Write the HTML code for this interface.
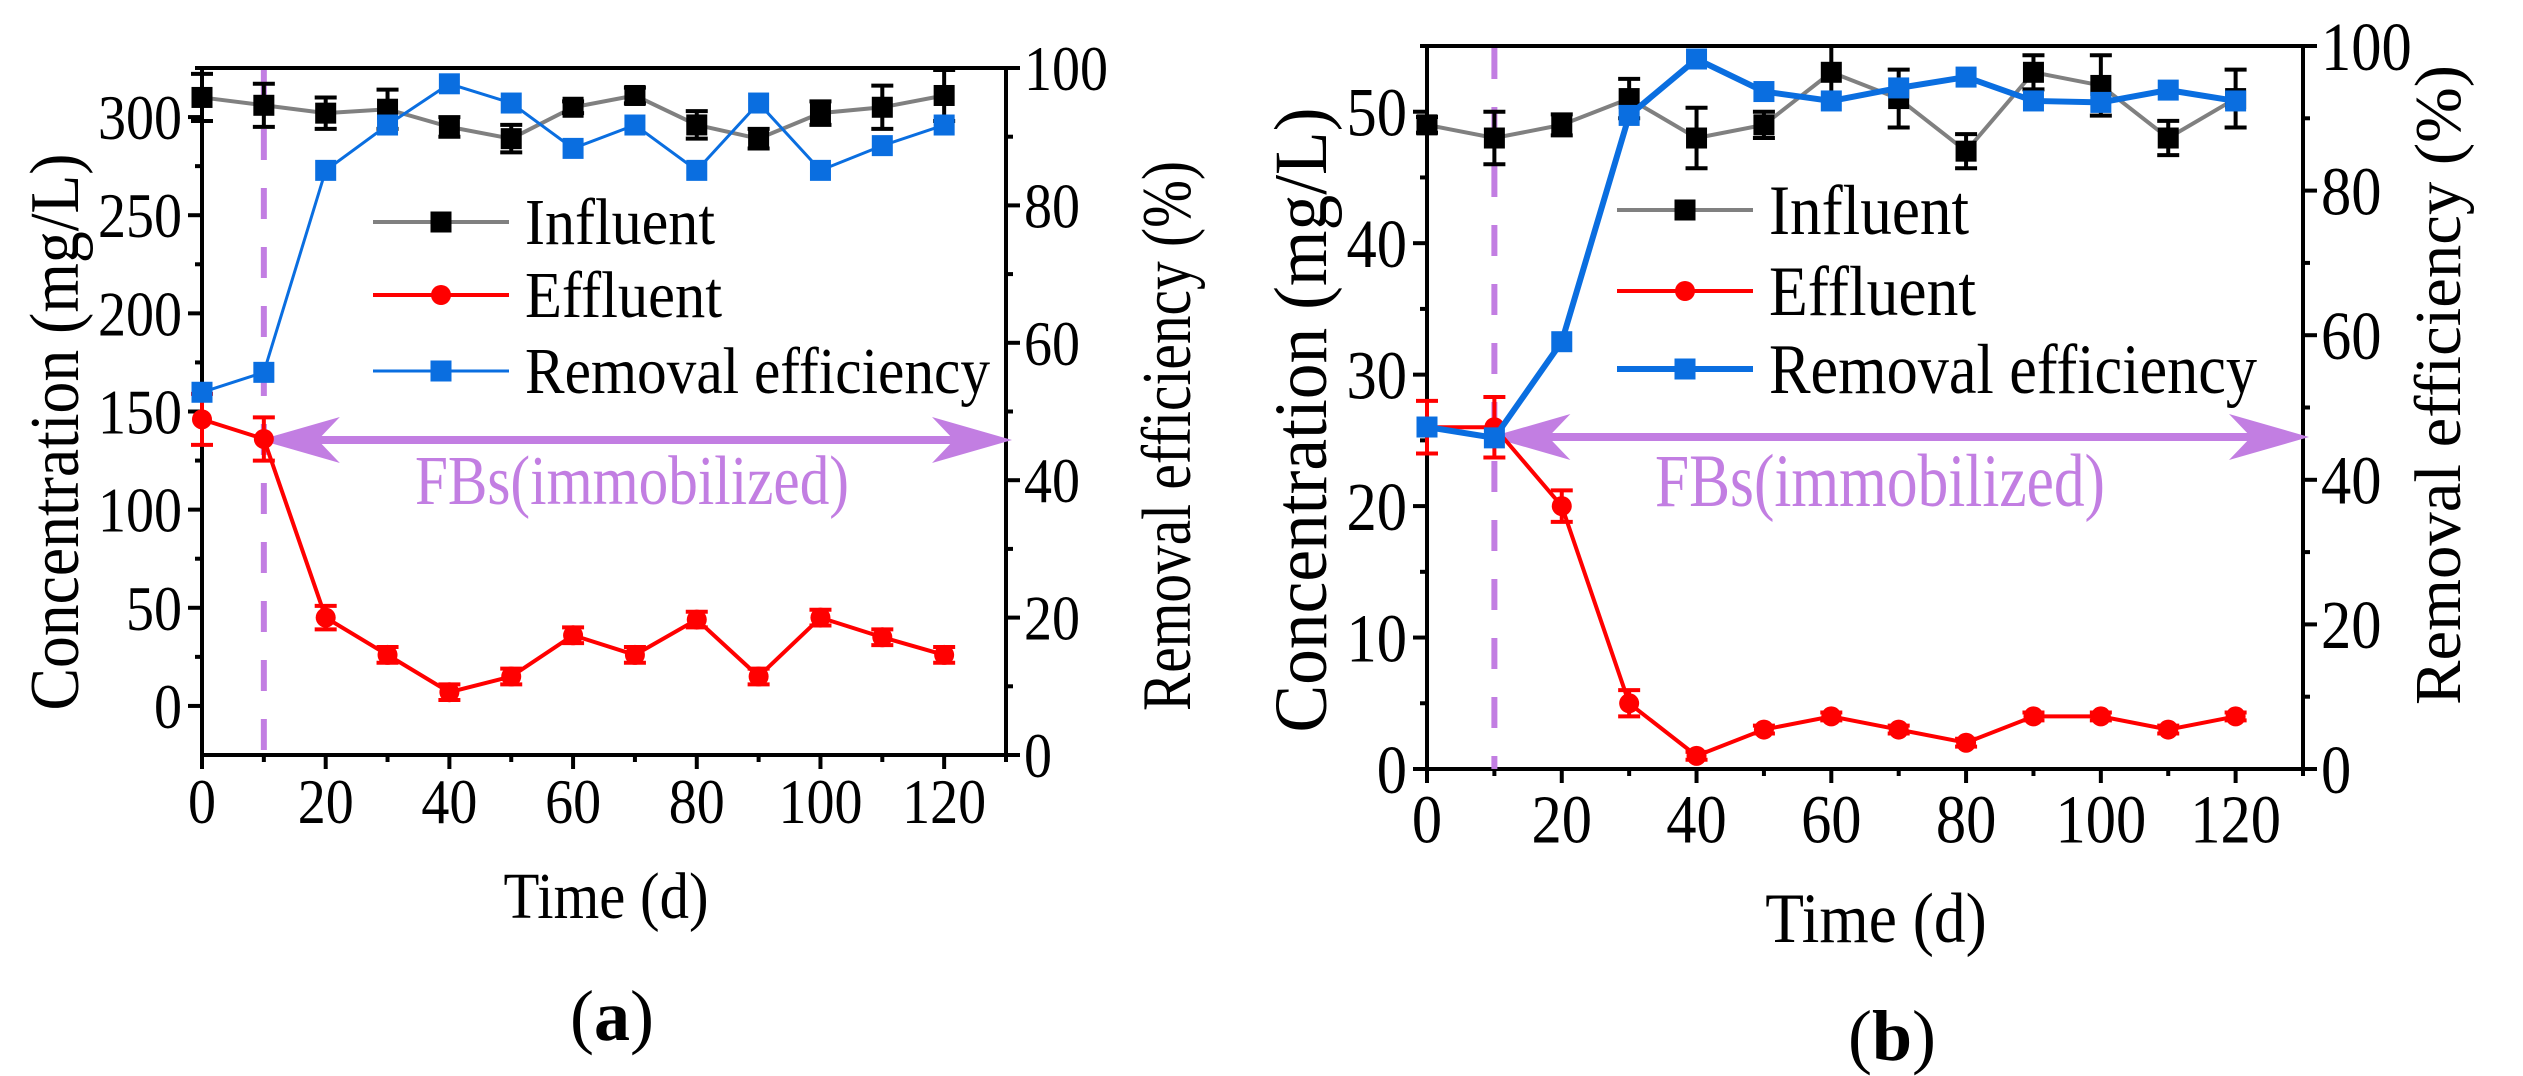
<!DOCTYPE html>
<html><head><meta charset="utf-8"><style>
html,body{margin:0;padding:0;background:#fff;}
svg{display:block;}
svg text{font-family:"Liberation Serif","DejaVu Serif","Times New Roman",serif;}
</style></head><body>
<svg id="c" width="2523" height="1076" viewBox="0 0 2523 1076" xmlns="http://www.w3.org/2000/svg"></svg>
<script>
const days = [0,10,20,30,40,50,60,70,80,90,100,110,120];
const aInfluent = [310,306,302,304,295,289,305,311,296,289,302,305,311];
const aInfluentErr = [12,11,8,10,5,7,3,4,7,5,6,11,13];
const aEffluent = [146,136,45,26,7,15,36,26,44,15,45,35,26];
const aEffluentErr = [13,11,6,4,4,4,4,4,4,4,4,4,4];
const aRemoval = [52.8,55.7,85.1,91.7,97.7,94.9,88.3,91.7,85.1,94.9,85.1,88.7,91.7];
const bInfluent = [49,48,49,51,48,49,53,51,47,53,52,48,51];
const bInfluentErr = [0.6,2,0.8,1.5,2.3,1,2,2.2,1.3,1.3,2.3,1.3,2.2];
const bEffluent = [26,26,20,5,1,3,4,3,2,4,4,3,4];
const bEffluentErr = [2,2.3,1.2,1,0.3,0.3,0.3,0.3,0.3,0.3,0.3,0.3,0.3];
const bRemoval = [47.3,45.8,59.1,90.4,98.2,93.7,92.4,94.2,95.7,92.4,92.2,93.9,92.4];
const xTicks = [0,20,40,60,80,100,120];
const aLeftTicks = [0,50,100,150,200,250,300];
const bLeftTicks = [0,10,20,30,40,50];
const rightTicks = [0,20,40,60,80,100];

const NS='http://www.w3.org/2000/svg';
const svg=document.getElementById('c');
function el(tag,attrs,parent,text){const e=document.createElementNS(NS,tag);for(const k in attrs)e.setAttribute(k,attrs[k]);if(tag==='text')e.style.fontFamily='"Liberation Serif","DejaVu Serif","Times New Roman",serif';if(text!==undefined)e.textContent=text;(parent||svg).appendChild(e);return e;}
function fit(t,w){t.setAttribute('textLength',w);t.setAttribute('lengthAdjust','spacingAndGlyphs');}

function panel(P){
  const g=el('g',{});
  
  
  const k=P.k;
  const X=v=>P.x0+v/130*(P.x1-P.x0);
  const YL=v=>P.yb-(v-P.lmin)/(P.lmax-P.lmin)*(P.yb-P.yt);
  const YR=v=>P.yb-v/100*(P.yb-P.yt);
  const fsT=64*k, dw=28*k;
  const ax=el('g',{},g);
  
  
  el('rect',{x:P.x0,y:P.yt,width:P.x1-P.x0,height:P.yb-P.yt,fill:'none',stroke:'#000','stroke-width':4},ax);
  for(let v=0;v<=130;v+=10){const maj=v%20===0;el('line',{x1:X(v),x2:X(v),y1:P.yb,y2:P.yb+(maj?14:7),stroke:'#000','stroke-width':4},ax);}
  xTicks.forEach(v=>{const s=String(v);const t=el('text',{x:X(v),y:P.yb+68*k,'font-size':fsT,'text-anchor':'middle'},g,s);fit(t,s.length*dw);
    });
  for(let v=P.lminTick;v<=P.lmax;v+=P.lminor){const maj=Math.abs(v%P.lmajor)<1e-6;el('line',{x1:P.x0,x2:P.x0-(maj?14:7),y1:YL(v),y2:YL(v),stroke:'#000','stroke-width':4},ax);}
  P.lticks.forEach(v=>{const s=String(v);const t=el('text',{x:P.x0-20,y:YL(v)+22*k,'font-size':fsT,'text-anchor':'end'},g,s);fit(t,s.length*dw);
    });
  for(let v=0;v<=100;v+=10){const maj=v%20===0;el('line',{x1:P.x1,x2:P.x1+(maj?14:7),y1:YR(v),y2:YR(v),stroke:'#000','stroke-width':4},ax);}
  rightTicks.forEach(v=>{const s=String(v);const t=el('text',{x:P.x1+18,y:YR(v)+22*k,'font-size':fsT},g,s);fit(t,s.length*dw);
    });
  let t=el('text',{x:P.tx,y:P.tyb,'font-size':66*k,'text-anchor':'middle'},g,'Time (d)');fit(t,205*k);
  
  t=el('text',{x:0,y:0,'font-size':70*k,'text-anchor':'middle',transform:`translate(${P.lx},${P.lcy}) rotate(-90)`},g,'Concentration (mg/L)');fit(t,P.lLen);
  
  t=el('text',{x:0,y:0,'font-size':P.rfs,'text-anchor':'middle',transform:`translate(${P.rx},${P.rcy}) rotate(-90)`},g,'Removal efficiency (%)');fit(t,P.rLen);
  
  t=el('text',{x:P.capx,y:P.capy,'font-size':72,'text-anchor':'middle'},g);
  el('tspan',{},t,'(');el('tspan',{'font-weight':'bold'},t,P.cap);el('tspan',{},t,')');
  
  const d=el('line',{x1:X(10),x2:X(10),y1:P.yt+2,y2:P.yb,stroke:'#c27ee2','stroke-width':6,'stroke-dasharray':'31 28'},g);
  
  const ay=P.arrowY, axl=X(10)-4, axr=P.x1+6;
  const ar=el('g',{},g);
  
  el('line',{x1:axl+30,x2:axr-30,y1:ay,y2:ay,stroke:'#c27ee2','stroke-width':8},ar);
  el('polygon',{points:`${axl},${ay} ${axl+80},${ay-23} ${axl+58},${ay} ${axl+80},${ay+23}`,fill:'#c27ee2'},ar);
  el('polygon',{points:`${axr},${ay} ${axr-80},${ay-23} ${axr-58},${ay} ${axr-80},${ay+23}`,fill:'#c27ee2'},ar);
  t=el('text',{x:P.fbx,y:ay+64*k,'font-size':70*k,fill:'#c27ee2','text-anchor':'middle'},g,'FBs(immobilized)');fit(t,P.fbLen);
  
  function series(vals,errs,yf,color,lw,marker,name){
    const s=el('g',{},g);
    
    el('polyline',{points:vals.map((v,i)=>X(days[i])+','+yf(v)).join(' '),fill:'none',stroke:color,'stroke-width':lw},s);
    vals.forEach((v,i)=>{
      const cx=X(days[i]),cy=yf(v);
      if(errs){const ec=color==='#ff0000'?'#ff0000':'#000';const e1=yf(v+errs[i]),e2=yf(v-errs[i]);
        el('line',{x1:cx,x2:cx,y1:e1,y2:e2,stroke:ec,'stroke-width':4},s);
        el('line',{x1:cx-11,x2:cx+11,y1:e1,y2:e1,stroke:ec,'stroke-width':4},s);
        el('line',{x1:cx-11,x2:cx+11,y1:e2,y2:e2,stroke:ec,'stroke-width':4},s);}
      let m;
      if(marker==='c')m=el('circle',{cx:cx,cy:cy,r:10,fill:color},s);
      else m=el('rect',{x:cx-10.5,y:cy-10.5,width:21,height:21,fill:color==='#808080'?'#000':color},s);
      
    });
  }
  series(P.inf,P.infErr,YL,'#808080',4,'s','influent-series');
  series(P.eff,P.effErr,YL,'#ff0000',4,'c','effluent-series');
  series(P.rem,null,YR,'#0a6ee0',P.remW,'s','removal-series');
  const lg=el('g',{},g);
  
  const items=[['Influent','#808080','s',4,P.legW[0]],['Effluent','#ff0000','c',4,P.legW[1]],['Removal efficiency','#0a6ee0','s',P.remW,P.legW[2]]];
  items.forEach((it,i)=>{
    const y=P.legY[i];const e=el('g',{},lg);
    
    el('line',{x1:P.legX,x2:P.legX+136,y1:y,y2:y,stroke:it[1],'stroke-width':it[3]},e);
    const mx=P.legX+68;
    if(it[2]==='c')el('circle',{cx:mx,cy:y,r:10,fill:it[1]},e);
    else el('rect',{x:mx-10.5,y:y-10.5,width:21,height:21,fill:it[1]==='#808080'?'#000':it[1]},e);
    const tt=el('text',{x:P.legX+152,y:y+22*k,'font-size':66*k},e,it[0]);fit(tt,it[4]);
  });
}

panel({name:'panel-a',k:1,x0:202,x1:1006,yt:68,yb:755,lmin:-25,lmax:325,lminTick:0,lminor:25,lmajor:50,lticks:aLeftTicks,
  inf:aInfluent,infErr:aInfluentErr,eff:aEffluent,effErr:aEffluentErr,rem:aRemoval,remW:3,
  tx:606,tyb:918,lx:78,lcy:432,lLen:557,rx:1190,rcy:436,rLen:550,rfs:70,cap:'a',capx:612,capy:1040,
  arrowY:440,fbx:632,fbLen:434,legX:373,legY:[222,295,371],legW:[190,197,465]});
panel({name:'panel-b',k:1.08,x0:1427,x1:2303,yt:46,yb:769,lmin:0,lmax:55,lminTick:0,lminor:5,lmajor:10,lticks:bLeftTicks,
  inf:bInfluent,infErr:bInfluentErr,eff:bEffluent,effErr:bEffluentErr,rem:bRemoval,remW:6,
  tx:1876,tyb:942,lx:1326,lcy:420,lLen:625,rx:2460,rcy:385,rLen:640,rfs:66,cap:'b',capx:1892,capy:1060,
  arrowY:437,fbx:1880,fbLen:450,legX:1617,legY:[210,291,369],legW:[200,207,488]});
</script>
</body></html>
